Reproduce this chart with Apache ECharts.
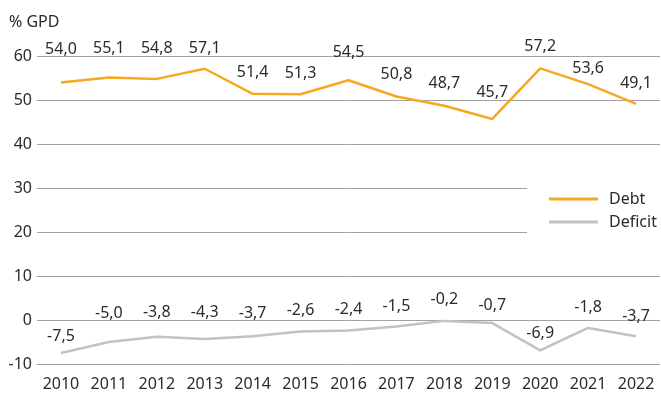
<!DOCTYPE html>
<html>
<head>
<meta charset="utf-8">
<script src="https://cdn.jsdelivr.net/npm/echarts@6/dist/echarts.min.js"></script>
<style>
  html, body { margin: 0; padding: 0; background: #fff; }
  #chart { width: 661px; height: 394px; }
</style>
</head>
<body>
<div id="chart"></div>
<script>
// Years on the category axis
var years = ['2010', '2011', '2012', '2013', '2014', '2015', '2016', '2017', '2018', '2019', '2020', '2021', '2022'];
// Public debt, % of GDP
var debt = [54.0, 55.1, 54.8, 57.1, 51.4, 51.3, 54.5, 50.8, 48.7, 45.7, 57.2, 53.6, 49.1];
// Budget balance, % of GDP
var deficit = [-7.5, -5.0, -3.8, -4.3, -3.7, -2.6, -2.4, -1.5, -0.2, -0.7, -6.9, -1.8, -3.7];
// Y axis ticks
var yTicks = [-10, 0, 10, 20, 30, 40, 50, 60];

// Distance of each value label above its point (px)
var debtLabelGap = [25, 21, 22, 12, 13, 13, 20, 14, 14, 18, 14, 8, 13];
var deficitLabelGap = [9, 21, 16, 18, 15, 13, 13, 12, 13, 10, 9, 12, 12];

var FONT = 'Noto Sans';
var TEXT = '#2b2b2b';
var ORANGE = '#F7A823';
var GREY = '#C2C2C6';
var FS = 16;

function fmt(v) { return v.toFixed(1).replace('.', ','); }

function withLabels(values, gaps) {
  return values.map(function (v, i) {
    return { value: v, label: { distance: gaps[i] } };
  });
}

function lineSeries(name, values, gaps, color) {
  return {
    name: name,
    type: 'line',
    data: withLabels(values, gaps),
    symbol: 'circle',
    symbolSize: 0,
    showSymbol: true,
    lineStyle: { color: color, width: 2.5 },
    itemStyle: { color: color },
    z: 3,
    label: {
      show: true,
      position: 'top',
      fontFamily: FONT,
      fontSize: FS,
      color: TEXT,
      formatter: function (p) { return fmt(p.value); }
    }
  };
}

var chart = echarts.init(document.getElementById('chart'), null, { renderer: 'canvas' });
chart.setOption({
  animation: false,
  textStyle: { fontFamily: FONT },
  grid: { left: 37, right: 1, top: 56, bottom: 30, containLabel: false },
  legend: {
    orient: 'vertical',
    left: 527,
    top: 181,
    padding: [10, 16, 10, 22],
    backgroundColor: '#fff',
    itemWidth: 49,
    itemHeight: 3,
    itemGap: 7,
    icon: 'rect',
    textStyle: { fontFamily: FONT, fontSize: FS, color: TEXT, padding: [0, 0, 0, 6] },
    data: ['Debt', 'Deficit']
  },
  xAxis: {
    type: 'category',
    data: years,
    boundaryGap: true,
    axisLine: { show: false },
    axisTick: { show: false },
    axisLabel: { fontFamily: FONT, fontSize: FS, color: TEXT, margin: 12 }
  },
  yAxis: {
    type: 'value',
    min: yTicks[0],
    max: yTicks[yTicks.length - 1],
    interval: 10,
    name: '% GPD',
    nameLocation: 'end',
    nameGap: 26,
    nameTextStyle: { fontFamily: FONT, fontSize: FS, color: TEXT, align: 'left', padding: [0, 0, 0, -28] },
    axisLine: { show: false },
    axisTick: { show: false },
    axisLabel: { fontFamily: FONT, fontSize: FS, color: TEXT, margin: 5 },
    splitLine: { lineStyle: { color: '#a3a3a3', width: 1 } }
  },
  series: [
    lineSeries('Debt', debt, debtLabelGap, ORANGE),
    lineSeries('Deficit', deficit, deficitLabelGap, GREY)
  ]
});
</script>
</body>
</html>
